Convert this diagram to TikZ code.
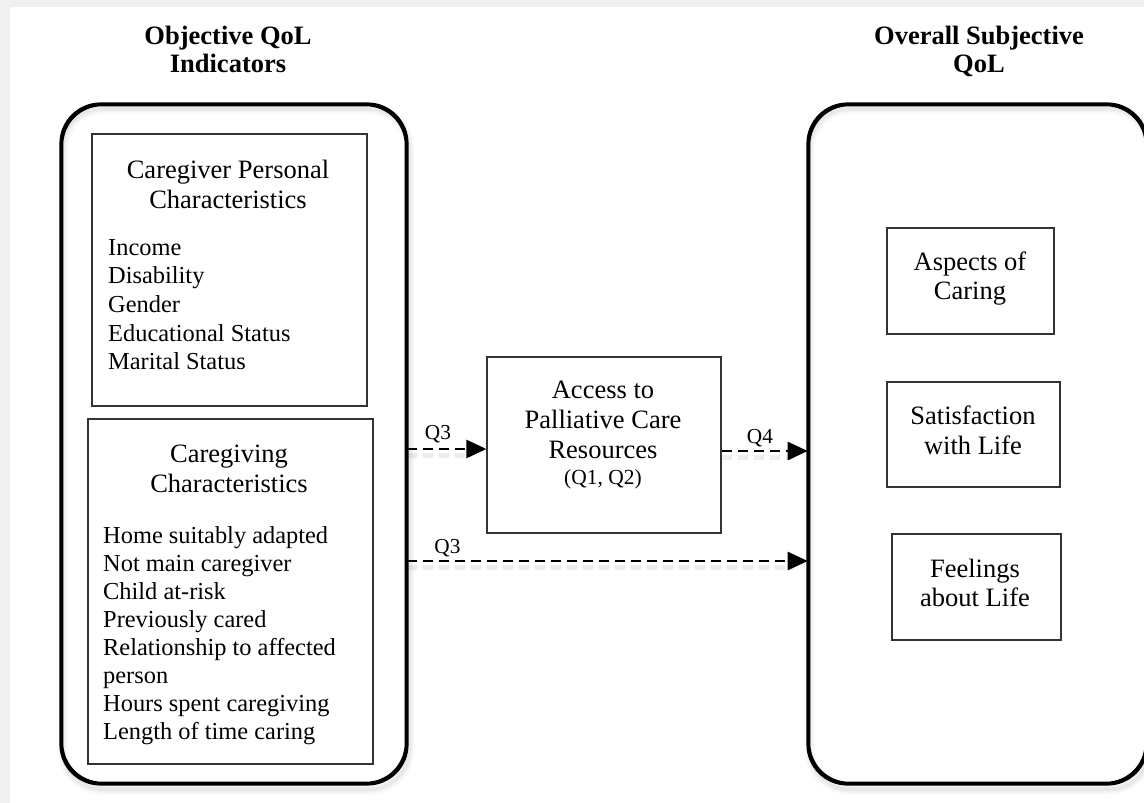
\documentclass[tikz,border=0pt]{standalone}
\usepackage{fontspec}
\setmainfont{Liberation Serif}
\usetikzlibrary{arrows.meta,calc}
\tikzset{
  outerbox/.style={draw=black, line width=2.6pt, rounded corners=40pt, fill=white, inner sep=0pt},
  innerbox/.style={draw=black!80, line width=1.2pt, inner sep=0pt},
  hdr/.style={font=\fontsize{26.5}{30}\selectfont, align=center, inner sep=0pt},
  lst/.style={font=\fontsize{24.4}{28.4}\selectfont, align=left, inner sep=0pt, anchor=north west},
  ttl/.style={font=\bfseries\fontsize{26.5}{28}\selectfont, align=center, inner sep=0pt},
  qlbl/.style={font=\fontsize{21.3}{24}\selectfont, inner sep=0pt},
  arr/.style={line width=2.6pt, dash pattern=on 10pt off 6pt, -{Triangle[length=20pt,width=18pt]}},
  arrshadow/.style={line width=5pt, draw=black, opacity=0.07, dash pattern=on 10pt off 6pt},
  boxshadow/.style={draw=black, rounded corners=40pt},
}
\begin{document}
\begin{tikzpicture}[x=1pt,y=-1pt]
\useasboundingbox (0,0) rectangle (1144,803);
\clip (0,0) rectangle (1144,803);
\fill[black!6] (0,0) rectangle (1144,803);
\fill[white] (10,7) rectangle (1150,810);

% titles
\node[ttl] (titleL) at (228,49) {Objective QoL\\Indicators};
\node[ttl] (titleR) at (979,51) {Overall Subjective\\QoL};

% outer rounded boxes
\node[outerbox, minimum width=344pt, minimum height=678pt] (outerL) at (234,444) {};
\node[outerbox, minimum width=337pt, minimum height=678pt] (outerR) at (977.5,444) {};

% soft shadows of the outer boxes
\foreach \w/\o in {11/0.02,7/0.03,3.5/0.04}{
  \draw[boxshadow, line width=\w pt, opacity=\o]
    ([shift={(2,5)}]outerL.north west) rectangle ([shift={(2,5)}]outerL.south east);
  \draw[boxshadow, line width=\w pt, opacity=\o]
    ([shift={(2,5)}]outerR.north west) rectangle ([shift={(2,5)}]outerR.south east);
}
\draw[boxshadow, line width=2.6pt] (outerL.north west) rectangle (outerL.south east);
\draw[boxshadow, line width=2.6pt] (outerR.north west) rectangle (outerR.south east);

% left inner boxes
\node[innerbox, minimum width=275pt, minimum height=272pt] (cp) at (229.5,270) {};
\node[hdr] (cphdr) at (228,184) {Caregiver Personal\\Characteristics};
\node[lst, font=\fontsize{24.4}{28.7}\selectfont] (cplist) at (108,239)
  {Income\\Disability\\Gender\\Educational Status\\Marital Status};

\node[innerbox, minimum width=285pt, minimum height=345pt] (cg) at (230.5,591.5) {};
\node[hdr] (cghdr) at (229,469) {Caregiving\\Characteristics};
\node[lst, font=\fontsize{24.4}{28}\selectfont] (cglist) at (103,526)
  {Home suitably adapted\\Not main caregiver\\Child at-risk\\Previously cared\\Relationship to affected\\person\\Hours spent caregiving\\Length of time caring};

% middle box
\node[innerbox, minimum width=234pt, minimum height=176pt] (acc) at (604,445) {};
\node[hdr] (acctext) at (603,420) {Access to\\Palliative Care\\Resources};
\node[qlbl, font=\fontsize{21.5}{24}\selectfont] (accq) at (603,479) {(Q1, Q2)};

% right inner boxes
\node[innerbox, minimum width=167pt, minimum height=106pt] (asp) at (970.5,281) {};
\node[hdr, font=\fontsize{26.5}{29}\selectfont] (asptext) at (970,279) {Aspects of\\Caring};
\node[innerbox, minimum width=173pt, minimum height=105pt] (sat) at (973.5,434.5) {};
\node[hdr] (sattext) at (973,430) {Satisfaction\\with Life};
\node[innerbox, minimum width=169pt, minimum height=106pt] (feel) at (976.5,587) {};
\node[hdr, font=\fontsize{26.5}{29}\selectfont] (feeltext) at (975,582.5) {Feelings\\about Life};

% connector anchors
\coordinate (accin) at ([yshift=-4pt]acc.west);
\coordinate (accout) at ([yshift=-6pt]acc.east);
\coordinate (lowL) at ([yshift=-117pt]outerL.east);

% arrow shadows
\draw[arrshadow] ($(outerL.east |- accin)+(0,6)$) -- ($(accin)+(-14,6)$);
\draw[arrshadow] ($(accout)+(0,6)$) -- ($(outerR.west |- accout)+(-14,6)$);
\draw[arrshadow] ($(lowL)+(0,6)$) -- ($(outerR.west |- lowL)+(-14,6)$);

% arrows
\draw[arr] (outerL.east |- accin) -- (accin);
\draw[arr] (accout) -- (outerR.west |- accout);
\draw[arr] (lowL) -- (outerR.west |- lowL);

% arrow labels
\node[qlbl] (q3a) at (438,434) {Q3};
\node[qlbl] (q4) at (760,438) {Q4};
\node[qlbl] (q3b) at (447.5,548) {Q3};
\end{tikzpicture}
\end{document}
